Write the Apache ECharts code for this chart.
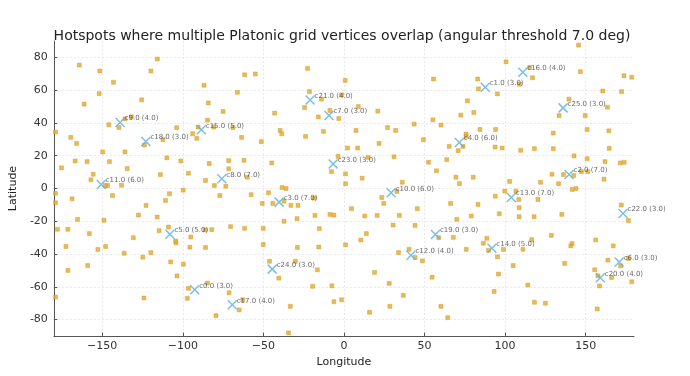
<!DOCTYPE html>
<html>
  <head>
    <meta charset="utf-8" />
    <title>Hotspots where multiple Platonic grid vertices overlap</title>
    <script src="https://cdn.jsdelivr.net/npm/echarts@6.0.0/dist/echarts.min.js"></script>
    <style>
      body { margin: 0; background: #fff; }
      #chart { width: 690px; height: 376px; }
    </style>
  </head>
  <body>
    <div id="chart"></div>
    <script>
      // grid vertices (lon, lat)
      const vertices = [
        [-179.0,34.4],[-164.2,75.3],[-161.2,51.5],[-151.5,71.7],[-151.9,57.9],[-143.0,64.8],[-115.8,79.0],[-119.8,71.7],
        [-125.5,54.1],[-175.3,12.6],[-169.5,31.2],[-165.9,27.5],[-166.8,16.8],[-159.4,16.4],[-155.6,8.7],[-157.0,5.3],
        [-149.7,22.3],[-145.9,38.9],[-145.5,16.4],[-139.6,37.2],[-135.9,42.5],[-131.9,43.7],[-135.9,22.3],[-134.5,12.2],
        [-138.0,2.0],[-146.7,1.8],[-148.1,1.8],[-143.6,-4.3],[-179.0,-2.9],[-168.7,-6.3],[-123.8,26.5],[-112.3,29.8],
        [-113.9,8.5],[-109.9,18.7],[-103.8,37.1],[-101.2,16.8],[-96.5,9.3],[-99.8,-1.0],[-108.3,-3.2],[-93.9,33.4],
        [-91.3,30.6],[-90.5,37.5],[-84.7,41.7],[-86.8,63.0],[-84.2,52.2],[-80.8,37.5],[-75.0,47.0],[-68.9,37.2],
        [-66.1,58.7],[-61.6,69.4],[-63.5,31.2],[-62.0,17.2],[-83.6,15.2],[-85.9,4.9],[-80.4,1.8],[-71.5,17.0],
        [-71.5,12.0],[-73.3,1.4],[-77.0,-4.3],[-60.0,6.9],
        [-55.0,69.9],[-22.6,73.3],[0.8,66.0],[-21.4,59.1],[-13.9,54.5],[-1.4,57.1],[-24.4,49.4],[-43.0,46.0],
        [-15.9,43.7],[-3.2,42.7],[8.9,50.0],[21.0,47.2],[-8.7,47.6],[-39.6,35.4],[-38.6,33.4],[-12.7,34.8],
        [-23.8,31.8],[7.5,35.4],[27.1,37.2],[32.1,35.4],[43.6,39.3],[55.6,66.8],[55.2,41.9],[60.2,38.7],
        [49.3,29.8],[-51.3,28.6],[2.2,24.7],[8.5,24.7],[21.8,27.5],[31.1,19.3],[-44.8,15.6],[-3.6,19.6],
        [15.0,19.0],[-7.7,10.3],[1.0,8.9],[11.3,6.3],[1.0,2.9],[52.5,16.0],[57.4,10.8],[63.8,17.6],
        [65.3,25.7],[-57.6,-3.8],[-46.8,-2.6],[-38.4,0.6],[-35.9,0.0],[-18.6,-5.9],[23.5,-5.5],[32.9,-1.8],
        [36.2,3.8],
        [145.6,87.5],[100.6,77.3],[115.3,73.9],[117.0,67.6],[108.9,63.6],[83.0,66.8],[83.5,60.8],[95.2,57.7],
        [146.7,71.3],[173.8,68.8],[178.6,67.9],[160.6,59.5],[172.3,59.1],[76.6,53.5],[72.5,44.8],[80.6,46.4],
        [139.6,54.5],[133.5,44.5],[149.7,44.5],[163.5,49.6],[75.8,33.2],[75.8,31.8],[84.4,36.0],[94.1,36.0],
        [73.9,25.7],[70.9,23.1],[93.8,25.3],[98.2,24.7],[109.7,23.3],[118.2,24.3],[129.9,24.3],[129.9,33.8],
        [150.9,36.0],[164.4,35.2],[164.6,24.5],[142.8,19.9],[150.9,18.2],[162.0,16.4],[171.5,15.6],[173.9,16.0],
        [69.5,6.9],[80.2,6.9],[71.7,3.0],[129.1,8.7],[136.2,8.5],[142.6,7.9],[147.3,10.3],[151.3,10.3],
        [133.2,2.9],[122.0,3.8],[161.4,5.7],[141.6,-0.6],[144.0,0.0],[102.8,4.3],[99.8,-1.6],[106.7,-1.6],
        [93.9,-4.7],[120.4,-6.7],[108.5,-6.7],
        [-179.0,-8.7],[-110.7,-7.3],[-122.8,-10.3],[-127.5,-16.2],[-115.9,-17.4],[-177.8,-24.9],[-171.3,-24.9],[-165.3,-18.8],
        [-148.9,-19.4],[-158.0,-27.5],[-114.7,-25.7],[-108.9,-23.5],[-104.4,-32.0],[-104.2,-33.2],[-95.0,-29.6],[-86.2,-25.3],
        [-82.0,-25.1],[-70.3,-23.3],[-61.6,-24.3],[-130.7,-30.0],[-172.5,-35.4],[-152.7,-37.2],[-147.9,-35.4],[-136.4,-39.5],
        [-124.8,-41.9],[-119.8,-39.1],[-95.6,-35.8],[-85.9,-36.0],[-107.5,-44.8],[-99.6,-46.2],[-103.6,-53.3],[-171.3,-50.0],
        [-159.0,-47.0],[-96.5,-60.9],[-97.2,-67.0],[-84.7,-57.7],[-71.3,-63.6],[-62.8,-67.9],[-65.0,-74.1],[-79.4,-77.6],
        [-124.1,-66.8],[-179.0,-66.2],
        [-50.7,-9.1],[-44.1,-9.1],[-32.9,-10.3],[-28.5,-10.3],[-37.2,-7.7],[4.7,-12.3],[24.7,-9.1],[45.5,-12.3],
        [66.2,-9.1],[-18.0,-16.4],[-8.7,-15.8],[-6.2,-16.2],[12.9,-16.8],[20.6,-16.4],[34.4,-16.4],[-37.2,-20.0],
        [-29.1,-18.4],[-50.1,-24.3],[-15.3,-24.5],[13.9,-27.5],[30.5,-22.3],[44.1,-22.5],[58.8,-30.0],[67.9,-29.8],
        [-50.1,-34.2],[-28.9,-36.0],[-15.6,-35.7],[1.0,-34.4],[10.5,-31.4],[33.9,-39.1],[40.4,-37.1],[44.2,-42.1],
        [48.7,-44.2],[-46.2,-44.4],[-30.1,-44.4],[-16.5,-49.6],[-40.4,-54.7],[19.0,-51.2],[28.1,-57.9],[54.7,-54.1],
        [-19.4,-59.7],[-7.5,-59.4],[36.8,-65.2],[60.2,-71.9],[64.4,-78.8],[-33.3,-71.9],[-6.2,-69.1],[-1.4,-67.9],
        [15.9,-75.5],[28.5,-71.9],[-34.4,-88.1],
        [83.2,-9.7],[172.1,-10.1],[108.7,-11.7],[70.1,-18.8],[79.0,-16.8],[96.4,-15.4],[108.7,-17.2],[118.0,-17.2],
        [135.2,-15.8],[176.5,-19.6],[128.7,-28.6],[116.5,-31.2],[88.7,-30.4],[86.5,-33.4],[75.9,-37.1],[89.7,-37.7],
        [99.0,-37.2],[111.1,-37.1],[95.3,-41.7],[105.0,-47.0],[95.9,-52.2],[93.2,-62.8],[114.1,-58.9],[118.2,-69.4],
        [125.0,-70.0],[140.8,-35.0],[141.6,-33.6],[137.0,-45.7],[156.2,-31.4],[167.1,-35.0],[163.8,-43.7],[176.5,-42.7],
        [171.7,-47.2],[155.6,-49.6],[157.6,-53.3],[166.1,-54.3],[158.6,-59.5],[178.6,-56.9],[157.2,-73.5]
      ];

      // hotspot clusters
      const hotspotIds = ['c0.0','c1.0','c2.0','c3.0','c4.0','c5.0','c6.0','c7.0','c8.0','c9.0','c10.0','c11.0','c12.0',
        'c13.0','c14.0','c15.0','c16.0','c17.0','c18.0','c19.0','c20.0','c21.0','c22.0','c23.0','c24.0','c25.0'];
      const hotspotCounts = ['3.0','3.0','7.0','7.0','6.0','5.0','3.0','3.0','7.0','4.0','6.0','6.0','4.0',
        '7.0','5.0','5.0','4.0','4.0','3.0','3.0','4.0','4.0','3.0','3.0','3.0','3.0'];
      const hotspotLon = [-92.6,87.7,139.7,-40.2,71.6,-108.0,170.8,-9.3,-75.8,-138.9,29.3,-150.6,41.6,
        103.9,91.8,-88.5,111.0,-69.3,-122.9,56.8,159.1,-21.0,173.2,-6.7,-44.5,136.0];
      const hotspotLat = [-61.8,61.8,8.5,-8.3,28.1,-27.9,-44.8,44.5,5.9,40.3,-2.6,2.4,-40.7,
        -5.5,-36.5,35.8,70.9,-70.9,28.7,-28.1,-54.5,54.0,-15.2,15.0,-49.2,49.2];

      const xTicks = [-150, -100, -50, 0, 50, 100, 150];
      const yTicks = [-80, -60, -40, -20, 0, 20, 40, 60, 80];

      const font = 'DejaVu Sans';
      const minus = v => String(v).replace('-', '\u2212');
      const hotspots = hotspotIds.map((id, i) => ({
        value: [hotspotLon[i], hotspotLat[i]],
        name: id + ' (' + hotspotCounts[i] + ')'
      }));

      const chart = echarts.init(document.getElementById('chart'));
      chart.setOption({
        animation: false,
        title: {
          text: 'Hotspots where multiple Platonic grid vertices overlap (angular threshold 7.0 deg)',
          left: 337, textAlign: 'center', top: 24,
          textStyle: { fontFamily: font, fontSize: 14, fontWeight: 'normal', color: '#222' }
        },
        grid: { left: 40, right: 56, top: 41, bottom: 40 },
        xAxis: {
          type: 'value', min: -180, max: 180,
          name: 'Longitude', nameLocation: 'middle', nameGap: 21,
          nameTextStyle: { fontFamily: font, fontSize: 11, color: '#222' },
          axisLine: { onZero: false, lineStyle: { color: '#555', width: 1 } },
          axisTick: { inside: true, length: 3.5, customValues: xTicks, lineStyle: { color: '#555' } },
          axisLabel: { customValues: xTicks, formatter: minus, fontFamily: font, fontSize: 11, color: '#333', margin: 5 },
          splitLine: { show: true, lineStyle: { color: '#e4e4e4', type: [2, 2], width: 0.8 } }
        },
        yAxis: {
          type: 'value', min: -90, max: 90,
          name: 'Latitude', nameLocation: 'middle', nameGap: 31,
          nameTextStyle: { fontFamily: font, fontSize: 11, color: '#222' },
          axisLine: { show: true, onZero: false, lineStyle: { color: '#555', width: 1 } },
          axisTick: { show: true, inside: true, length: 3.5, customValues: yTicks, lineStyle: { color: '#555' } },
          axisLabel: { customValues: yTicks, fontFamily: font, fontSize: 11, color: '#333', margin: 6 },
          splitLine: { show: true, lineStyle: { color: '#e4e4e4', type: [2, 2], width: 0.8 } }
        },
        series: [
          {
            type: 'scatter',
            data: vertices,
            symbol: 'rect',
            symbolSize: 4,
            itemStyle: { color: '#e4a92c', borderColor: '#cf951f', borderWidth: 0.5 },
            z: 2
          },
          {
            type: 'scatter',
            data: hotspots,
            symbol: 'path://M0,0L10,10M10,0L0,10',
            symbolSize: 9,
            itemStyle: { color: 'none', borderColor: '#5eaedc', borderWidth: 1.5 },
            label: {
              show: true, position: 'right', distance: -2.5, offset: [0, -4],
              formatter: p => p.name,
              fontFamily: font, fontSize: 7, color: '#444'
            },
            z: 3
          }
        ]
      });
    </script>
  </body>
</html>
